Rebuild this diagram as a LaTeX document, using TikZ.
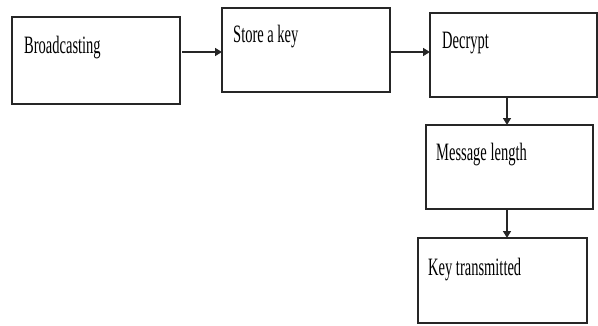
\documentclass[tikz,border=0pt]{standalone}
\usepackage{fontspec}
\setmainfont{Liberation Serif}
\newfontfamily\boxfont[FakeStretch=0.58]{Liberation Serif}
\usetikzlibrary{arrows.meta}
\begin{document}
\begin{tikzpicture}[x=1pt,y=-1pt,
  stepbox/.style={draw=black!85,line width=1.3pt},
  lbl/.style={anchor=base west,inner sep=0pt,font=\boxfont\fontsize{25}{25}\selectfont},
  conn/.style={draw=black!85,line width=1.5pt,-{Triangle[length=7pt,width=8pt]}}]
\useasboundingbox (0,0) rectangle (598,325);
% boxes
\path[stepbox] (12,17) rectangle (180,104);
\coordinate (b1r) at (182,52);
\path[stepbox] (222,8) rectangle (390,92);
\coordinate (b2l) at (222,52); \coordinate (b2r) at (391,52);
\path[stepbox] (430,13) rectangle (597,97);
\coordinate (b3l) at (430,52); \coordinate (b3b) at (507,97);
\path[stepbox] (426,125) rectangle (593,209);
\coordinate (b4t) at (507,125); \coordinate (b4b) at (507,209);
\path[stepbox] (418,238) rectangle (587,323);
\coordinate (b5t) at (507,238);
% labels
\node[lbl] (t1) at (24,53) {Broadcasting};
\node[lbl] (t2) at (233,42) {Store a key};
\node[lbl] (t3) at (442,48) {Decrypt};
\node[lbl] (t4) at (436,160) {Message length};
\node[lbl] (t5) at (428,275) {Key transmitted};
% connectors
\draw[conn] (b1r) -- (b2l);
\draw[conn] (b2r) -- (b3l);
\draw[conn] (b3b) -- (b4t);
\draw[conn] (b4b) -- (b5t);
\end{tikzpicture}
\end{document}
